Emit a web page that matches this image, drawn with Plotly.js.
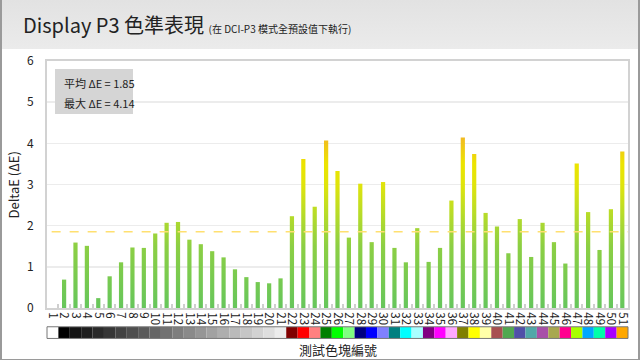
<!DOCTYPE html>
<html>
<head>
<meta charset="utf-8">
<script src="https://cdn.plot.ly/plotly-3.0.1.min.js"></script>
<style>
  html, body { margin: 0; padding: 0; background: #ffffff; }
  #wrap { position: relative; width: 640px; height: 360px; overflow: hidden;
          background: linear-gradient(to bottom, #e2e2e2 0px, #ebebeb 49px, #ffffff 49px, #ffffff 360px); }
  #chart { position: absolute; left: 0; top: 0; width: 640px; height: 360px; }
  #frame { position: absolute; left: 0; top: -3px; width: 636px; height: 360px;
           border: 2px solid #9a9a9a; pointer-events: none; }
</style>
</head>
<body>
<div id="wrap">
  <div id="chart"></div>
  <div id="frame"></div>
</div>
<script>
// ---- data ----
const patches = ['1','2','3','4','5','6','7','8','9','10','11','12','13','14','15','16','17','18','19','20',
                 '21','22','23','24','25','26','27','28','29','30','31','32','33','34','35','36','37','38','39','40',
                 '41','42','43','44','45','46','47','48','49','50','51'];
const deltaE = [0.00, 0.69, 1.59, 1.51, 0.24, 0.77, 1.11, 1.47, 1.46, 1.81,
                2.07, 2.09, 1.66, 1.55, 1.38, 1.23, 0.94, 0.75, 0.63, 0.60,
                0.72, 2.23, 3.62, 2.46, 4.07, 3.33, 1.71, 3.02, 1.60, 3.06,
                1.46, 1.11, 1.94, 1.12, 1.46, 2.61, 4.14, 3.74, 2.31, 1.98,
                1.33, 2.16, 1.24, 2.07, 1.60, 1.08, 3.51, 2.33, 1.41, 2.40, 3.80];
const swatchColors = ['#ffffff','#000000','#141414','#1e1e1e','#2a2a2a','#363636','#424242','#4e4e4e','#5a5a5a','#666666',
                      '#727272','#7e7e7e','#8a8a8a','#969696','#a2a2a2','#aeaeae','#bababa','#c6c6c6','#d2d2d2','#dedede',
                      '#ececec','#800000','#ff0000','#ff8080','#008000','#00ff00','#80ff80','#000080','#0000ff','#8080ff',
                      '#008080','#00ffff','#a8ffff','#800080','#ff00ff','#ffa8ff','#808000','#ffff00','#ffffa8','#a85050',
                      '#50a850','#5050a8','#50a8a8','#a850a8','#a8a850','#ff0090','#a8ff00','#00a8ff','#00ffa8','#a800ff','#ffa800'];
const swatchHeight = patches.map(() => 1);
const avgDeltaE = 1.85;
const maxDeltaE = 4.14;
const yTicks = [0, 1, 2, 3, 4, 5, 6];
// gradient stops in deltaE units
const gradStops = [[0, '#66c65c'], [1.5, '#8ccf44'], [2.3, '#b8dc28'], [3.0, '#e0e40c'], [3.5, '#ece400'], [4.2, '#f2b626']];

const font = 'Noto Sans CJK TC, Noto Sans, sans-serif';

const traces = [
  {
    type: 'bar', x: patches, y: deltaE, xaxis: 'x', yaxis: 'y',
    width: 0.37, marker: { color: '#66c65c', line: { width: 0 } },
    hoverinfo: 'none'
  },
  {
    type: 'bar', x: patches, y: swatchHeight, xaxis: 'x', yaxis: 'y2',
    width: 1, marker: { color: swatchColors, line: { width: 0 } },
    hoverinfo: 'none'
  }
];

const layout = {
  width: 640, height: 360,
  margin: { l: 47, r: 12, t: 61, b: 21 },
  paper_bgcolor: 'rgba(0,0,0,0)',
  plot_bgcolor: 'rgba(0,0,0,0)',
  showlegend: false,
  font: { family: font, color: '#222', size: 12 },
  title: {
    text: 'Display P3 色準表現 <span style="font-size:10px">(在 DCI-P3 模式全預設值下執行)</span>',
    font: { family: font, size: 20, color: '#222' },
    x: 23 / 640, xanchor: 'left', xref: 'container',
    y: 1 - 26 / 360, yanchor: 'middle', yref: 'container'
  },
  xaxis: {
    type: 'category', anchor: 'y',
    range: [-0.5, 50.5],
    tickmode: 'array', tickvals: patches, ticktext: patches,
    showline: true, mirror: true, linecolor: '#d2d2d2', linewidth: 2,
    showgrid: false, zeroline: false,
    ticks: 'inside', tickson: 'boundaries', ticklen: 4, tickwidth: 2, tickcolor: '#cfcfcf',
    tickangle: 90, tickfont: { family: font, size: 11.5, color: '#222' }
  },
  yaxis: {
    domain: [0.1115, 1], anchor: 'x',
    range: [0, 6], tickvals: yTicks, ticktext: yTicks.map(String),
    showline: true, mirror: true, linecolor: '#d2d2d2', linewidth: 2,
    showgrid: true, gridcolor: '#ececec', gridwidth: 1.5, zeroline: false,
    ticks: '', ticklabelstandoff: 9,
    tickfont: { family: font, size: 12, color: '#222' }
  },
  yaxis2: {
    domain: [0.002, 0.044], anchor: 'x', range: [0, 1],
    visible: false, showgrid: false, zeroline: false
  },
  shapes: [
    { type: 'line', xref: 'paper', yref: 'y', x0: 0.008, x1: 1, y0: avgDeltaE, y1: avgDeltaE,
      line: { color: '#ffe070', width: 1.5, dash: 'dash' }, layer: 'above' },
    { type: 'rect', xref: 'paper', yref: 'paper', x0: 0.0138, x1: 0.148, y0: 0.809, y1: 0.971,
      fillcolor: '#d5d5d5', line: { width: 0 }, layer: 'above' },
    { type: 'rect', xref: 'paper', yref: 'y2 domain', x0: 0, x1: 1, y0: 0, y1: 1,
      fillcolor: 'rgba(0,0,0,0)', line: { color: '#777', width: 1 } }
  ],
  annotations: [
    { xref: 'paper', yref: 'paper', x: 0.0258, y: 0.921, xanchor: 'left', yanchor: 'middle',
      text: '平均 ΔE = ' + avgDeltaE.toFixed(2), showarrow: false,
      font: { family: font, size: 11, color: '#222' } },
    { xref: 'paper', yref: 'paper', x: 0.0258, y: 0.849, xanchor: 'left', yanchor: 'middle',
      text: '最大 ΔE = ' + maxDeltaE.toFixed(2), showarrow: false,
      font: { family: font, size: 11, color: '#222' } },
    { xref: 'paper', yref: 'paper', x: 0.5, y: -0.038, xanchor: 'center', yanchor: 'middle',
      text: '測試色塊編號', showarrow: false,
      font: { family: font, size: 13, color: '#222' } },
    { xref: 'paper', yref: 'y domain', x: -0.0568, y: 0.5, xanchor: 'center', yanchor: 'middle',
      text: 'DeltaE (ΔE)', textangle: -90, showarrow: false,
      font: { family: font, size: 13, color: '#222' } }
  ]
};

Plotly.newPlot('chart', traces, layout, { displayModeBar: false, staticPlot: true }).then(gd => {
  const ya = gd._fullLayout.yaxis;
  const svg = gd.querySelector('.main-svg');
  let defs = svg.querySelector('defs');
  if (!defs) { defs = document.createElementNS('http://www.w3.org/2000/svg', 'defs'); svg.insertBefore(defs, svg.firstChild); }
  const NS = 'http://www.w3.org/2000/svg';
  const grad = document.createElementNS(NS, 'linearGradient');
  grad.setAttribute('id', 'barGrad');
  grad.setAttribute('gradientUnits', 'userSpaceOnUse');
  const y0 = ya.l2p(gradStops[0][0]);
  const y1 = ya.l2p(gradStops[gradStops.length - 1][0]);
  grad.setAttribute('x1', '0'); grad.setAttribute('x2', '0');
  grad.setAttribute('y1', String(y0)); grad.setAttribute('y2', String(y1));
  const span = gradStops[gradStops.length - 1][0] - gradStops[0][0];
  gradStops.forEach(([v, c]) => {
    const s = document.createElementNS(NS, 'stop');
    s.setAttribute('offset', String((v - gradStops[0][0]) / span));
    s.setAttribute('stop-color', c);
    grad.appendChild(s);
  });
  defs.appendChild(grad);
  const paths = gd.querySelectorAll('.subplot.xy .barlayer .point path');
  paths.forEach(p => { p.style.fill = 'url(#barGrad)'; });
});
</script>
</body>
</html>
